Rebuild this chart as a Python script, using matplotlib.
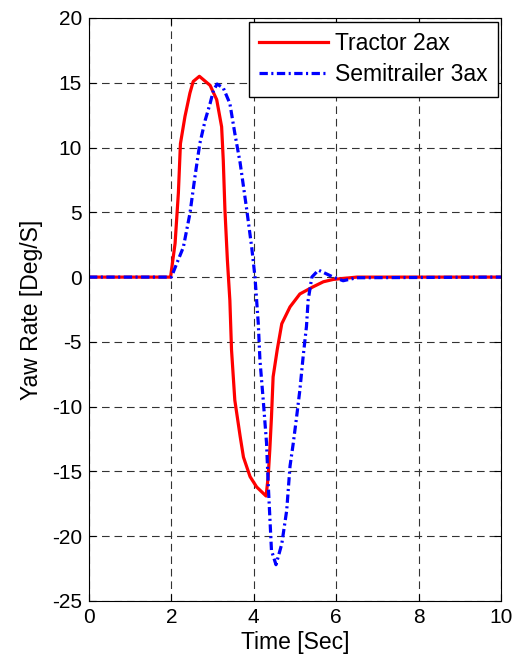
import matplotlib
matplotlib.use("Agg")
import matplotlib.pyplot as plt

plt.rcParams['font.family'] = ['Liberation Sans', 'DejaVu Sans']
plt.rcParams['lines.scale_dashes'] = False
plt.rcParams['axes.unicode_minus'] = False

# Tractor 2ax yaw rate
t_tractor = [0.0, 1.98, 2.09, 2.17, 2.22, 2.33, 2.45, 2.53, 2.68, 2.94, 3.10, 3.22,
             3.26, 3.30, 3.36, 3.42, 3.46, 3.54, 3.67, 3.75, 3.91, 4.07, 4.30, 4.35,
             4.39, 4.43, 4.47, 4.57, 4.68, 4.88, 5.12, 5.44, 5.69, 5.93, 6.5, 10.0]
r_tractor = [0.0, 0.0, 2.6, 6.5, 10.3, 12.4, 14.2, 15.1, 15.5, 14.8, 13.7, 11.6,
             9.0, 5.2, 1.3, -1.8, -5.6, -9.5, -12.3, -13.9, -15.4, -16.2, -16.9, -15.4,
             -13.3, -10.8, -7.7, -5.6, -3.6, -2.3, -1.3, -0.75, -0.36, -0.18, 0.0, 0.0]

# Semitrailer 3ax yaw rate
t_trailer = [0.0, 2.0, 2.13, 2.29, 2.45, 2.57, 2.69, 2.82, 2.94, 3.02, 3.11, 3.26,
             3.42, 3.54, 3.67, 3.83, 3.95, 4.03, 4.07, 4.11, 4.15, 4.23, 4.31, 4.35,
             4.39, 4.43, 4.54, 4.68, 4.80, 4.88, 4.96, 5.04, 5.12, 5.20, 5.28, 5.32,
             5.41, 5.57, 5.93, 6.17, 6.5, 10.0]
r_trailer = [0.0, 0.0, 1.05, 2.3, 4.9, 7.7, 10.3, 12.1, 13.4, 14.4, 14.9, 14.6,
             13.4, 11.1, 8.8, 5.2, 2.3, 0.0, -1.8, -3.6, -6.4, -9.5, -12.8, -15.9,
             -18.5, -21.1, -22.2, -20.6, -18.0, -14.6, -12.8, -10.8, -8.7, -6.1, -3.8, -1.8,
             0.0, 0.54, 0.0, -0.28, -0.05, 0.0]

x_ticks = [0, 2, 4, 6, 8, 10]
y_ticks = [-25, -20, -15, -10, -5, 0, 5, 10, 15, 20]

fig = plt.figure(figsize=(5.18, 6.64), dpi=100)
ax = fig.add_axes([0.1718, 0.0949, 0.7952, 0.8780])

ax.plot(t_tractor, r_tractor, color='#ff0000', lw=2.3, label='Tractor 2ax')
ax.plot(t_trailer, r_trailer, color='#0000ff', lw=2.3,
        linestyle=(0, (6, 2.5, 1.5, 2.5)), dash_capstyle='butt',
        label='Semitrailer 3ax')

ax.set_xlim(0, 10)
ax.set_ylim(-25, 20)
ax.set_xticks(x_ticks)
ax.set_yticks(y_ticks)
ax.tick_params(direction='in', top=True, right=True, labelsize=15,
               length=5, width=0.8, pad=5)
ax.grid(True, color='#333333', lw=0.8, linestyle=(0, (5.5, 3.5)))
for s in ax.spines.values():
    s.set_linewidth(0.8)

ax.set_xlabel('Time [Sec]', fontsize=16.5, labelpad=3)
ax.set_ylabel('Yaw Rate [Deg/S]', fontsize=16.5, labelpad=6)

leg = ax.legend(loc='upper right', bbox_to_anchor=(0.993, 0.993),
                fontsize=16.5, fancybox=False, framealpha=1,
                edgecolor='black', borderaxespad=0.0, handlelength=3.0,
                handletextpad=0.3, labelspacing=0.35, borderpad=0.45)
leg.get_frame().set_linewidth(1.0)

fig.savefig('out.png', dpi=100)
